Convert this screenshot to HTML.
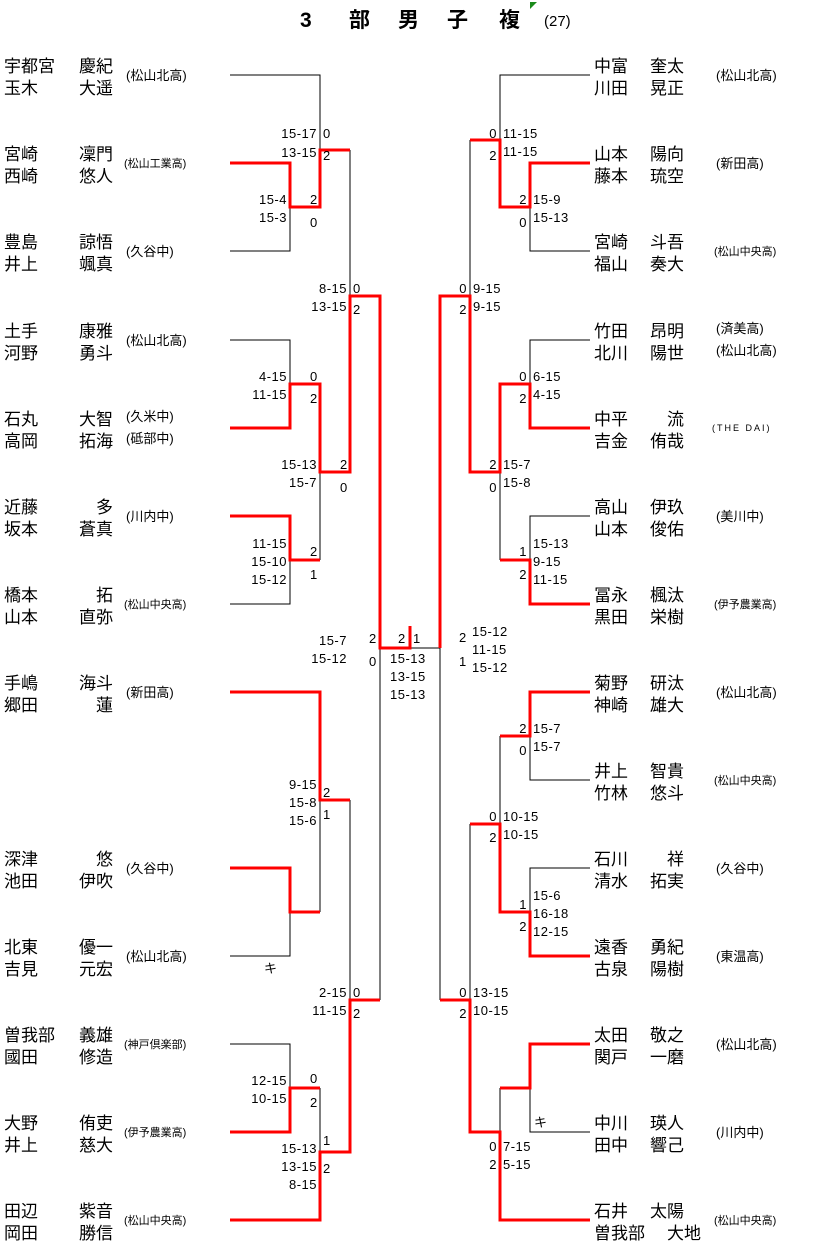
<!DOCTYPE html>
<html><head><meta charset="utf-8"><style>
html,body{margin:0;padding:0;background:#fff;}
svg{display:block}
.n{font-family:"Liberation Sans","Noto Sans CJK JP",sans-serif;font-size:17px;fill:#000}
.s{font-family:"Liberation Sans","Noto Sans CJK JP",sans-serif;font-size:13px;fill:#000}
.ss{font-family:"Liberation Sans","Noto Sans CJK JP",sans-serif;font-size:11px;fill:#000}
.sc{font-family:"Liberation Sans",sans-serif;font-size:13px;fill:#000;letter-spacing:0.5px}
.e{text-anchor:end}
</style></head><body>
<svg width="821" height="1243" viewBox="0 0 821 1243" xmlns="http://www.w3.org/2000/svg">
<g font-family="Liberation Sans, Noto Sans CJK JP, sans-serif" font-weight="bold" font-size="21">
<text x="300" y="27">3</text><text x="349" y="27">部</text><text x="398" y="27">男</text><text x="447" y="27">子</text><text x="499" y="27">複</text></g>
<polygon points="530,2 537,2 530,9" fill="#1a8a1a"/>
<text x="544" y="26" font-family="Liberation Sans, sans-serif" font-size="15">(27)</text>

<g fill="none" stroke="#000" stroke-width="1">
<path d="M230,75H320V150M230,251H290V207M350,150V296M230,340H290V384M320,472V560M230,604H290V560M410,648H440M380,648V1000M320,800V912M230,956H290V912M350,800V1000M230,1044H290V1088M320,1088V1152"/>
<path d="M590,75H500V140M590,251H530V207M470,140V296M590,340H530V384M500,472V560M590,516H530V560M440,648V1000M590,780H530V736M500,736V824M590,868H530V912M470,824V1000M590,1132H530V1088M500,1088V1132"/>
</g>
<g fill="none" stroke="#f00" stroke-width="3">
<path d="M230,163H290V207H320V150H350"/>
<path d="M230,428H290V384H320V472H350V296H380V648H410V626"/>
<path d="M230,516H290V560H320"/>
<path d="M230,692H320V800H350"/>
<path d="M230,868H290V912H320"/>
<path d="M230,1132H290V1088H320"/>
<path d="M230,1220H320V1152H350V1000H380"/>
<path d="M590,163H530V207H500V140H470"/>
<path d="M590,428H530V384H500V472H470V296H440V648"/>
<path d="M590,604H530V560H500"/>
<path d="M590,692H530V736H500"/>
<path d="M590,956H530V912H500V824H470"/>
<path d="M590,1044H530V1088H500"/>
<path d="M590,1220H500V1132H470V1000H440"/>
</g>

<g class="sc">
<text class="e" x="317" y="138">15-17</text><text x="323" y="138">0</text>
<text class="e" x="317" y="157">13-15</text><text x="323" y="160">2</text>
<text class="e" x="287" y="204">15-4</text><text x="310" y="204">2</text>
<text class="e" x="287" y="222">15-3</text><text x="310" y="227">0</text>
<text class="e" x="347" y="293">8-15</text><text x="353" y="293">0</text>
<text class="e" x="347" y="311">13-15</text><text x="353" y="314">2</text>
<text class="e" x="287" y="381">4-15</text><text x="310" y="381">0</text>
<text class="e" x="287" y="399">11-15</text><text x="310" y="403">2</text>
<text class="e" x="317" y="469">15-13</text><text x="340" y="469">2</text>
<text class="e" x="317" y="487">15-7</text><text x="340" y="492">0</text>
<text class="e" x="287" y="548">11-15</text><text class="e" x="287" y="566">15-10</text><text class="e" x="287" y="584">15-12</text>
<text x="310" y="556">2</text><text x="310" y="579">1</text>
<text class="e" x="347" y="645">15-7</text><text x="369" y="643">2</text>
<text class="e" x="347" y="663">15-12</text><text x="369" y="666">0</text>
<text x="398" y="643">2</text><text x="413" y="643">1</text>
<text x="390" y="663">15-13</text><text x="390" y="681">13-15</text><text x="390" y="699">15-13</text>
<text x="459" y="642">2</text><text x="472" y="636">15-12</text><text x="472" y="654">11-15</text>
<text x="459" y="666">1</text><text x="472" y="672">15-12</text>
<text class="e" x="317" y="789">9-15</text><text x="323" y="797">2</text>
<text class="e" x="317" y="807">15-8</text><text class="e" x="317" y="825">15-6</text><text x="323" y="819">1</text>
<text x="264" y="973">キ</text>
<text class="e" x="347" y="997">2-15</text><text x="353" y="997">0</text>
<text class="e" x="347" y="1015">11-15</text><text x="353" y="1018">2</text>
<text class="e" x="287" y="1085">12-15</text><text x="310" y="1083">0</text>
<text class="e" x="287" y="1103">10-15</text><text x="310" y="1107">2</text>
<text class="e" x="317" y="1153">15-13</text><text x="323" y="1145">1</text>
<text class="e" x="317" y="1171">13-15</text><text x="323" y="1173">2</text>
<text class="e" x="317" y="1189">8-15</text>

<text class="e" x="497" y="138">0</text><text x="503" y="138">11-15</text>
<text class="e" x="497" y="160">2</text><text x="503" y="156">11-15</text>
<text class="e" x="527" y="204">2</text><text x="533" y="204">15-9</text>
<text class="e" x="527" y="227">0</text><text x="533" y="222">15-13</text>
<text class="e" x="467" y="293">0</text><text x="473" y="293">9-15</text>
<text class="e" x="467" y="314">2</text><text x="473" y="311">9-15</text>
<text class="e" x="527" y="381">0</text><text x="533" y="381">6-15</text>
<text class="e" x="527" y="403">2</text><text x="533" y="399">4-15</text>
<text class="e" x="497" y="469">2</text><text x="503" y="469">15-7</text>
<text class="e" x="497" y="492">0</text><text x="503" y="487">15-8</text>
<text class="e" x="527" y="556">1</text><text x="533" y="548">15-13</text><text x="533" y="566">9-15</text>
<text class="e" x="527" y="579">2</text><text x="533" y="584">11-15</text>
<text class="e" x="527" y="733">2</text><text x="533" y="733">15-7</text>
<text class="e" x="527" y="755">0</text><text x="533" y="751">15-7</text>
<text class="e" x="497" y="821">0</text><text x="503" y="821">10-15</text>
<text class="e" x="497" y="842">2</text><text x="503" y="839">10-15</text>
<text class="e" x="527" y="909">1</text><text x="533" y="900">15-6</text><text x="533" y="918">16-18</text>
<text class="e" x="527" y="931">2</text><text x="533" y="936">12-15</text>
<text class="e" x="467" y="997">0</text><text x="473" y="997">13-15</text>
<text class="e" x="467" y="1018">2</text><text x="473" y="1015">10-15</text>
<text x="534" y="1127">キ</text>
<text class="e" x="497" y="1151">0</text><text x="503" y="1151">7-15</text>
<text class="e" x="497" y="1169">2</text><text x="503" y="1169">5-15</text>
</g>

<g class="n">
<text x="4" y="72">宇都宮</text><text class="e" x="113" y="72">慶紀</text><text x="4" y="94">玉木</text><text class="e" x="113" y="94">大遥</text>
<text x="4" y="160">宮崎</text><text class="e" x="113" y="160">凜門</text><text x="4" y="182">西崎</text><text class="e" x="113" y="182">悠人</text>
<text x="4" y="248">豊島</text><text class="e" x="113" y="248">諒悟</text><text x="4" y="270">井上</text><text class="e" x="113" y="270">颯真</text>
<text x="4" y="337">土手</text><text class="e" x="113" y="337">康雅</text><text x="4" y="359">河野</text><text class="e" x="113" y="359">勇斗</text>
<text x="4" y="425">石丸</text><text class="e" x="113" y="425">大智</text><text x="4" y="447">高岡</text><text class="e" x="113" y="447">拓海</text>
<text x="4" y="513">近藤</text><text class="e" x="113" y="513">多</text><text x="4" y="535">坂本</text><text class="e" x="113" y="535">蒼真</text>
<text x="4" y="601">橋本</text><text class="e" x="113" y="601">拓</text><text x="4" y="623">山本</text><text class="e" x="113" y="623">直弥</text>
<text x="4" y="689">手嶋</text><text class="e" x="113" y="689">海斗</text><text x="4" y="711">郷田</text><text class="e" x="113" y="711">蓮</text>
<text x="4" y="865">深津</text><text class="e" x="113" y="865">悠</text><text x="4" y="887">池田</text><text class="e" x="113" y="887">伊吹</text>
<text x="4" y="953">北東</text><text class="e" x="113" y="953">優一</text><text x="4" y="975">吉見</text><text class="e" x="113" y="975">元宏</text>
<text x="4" y="1041">曽我部</text><text class="e" x="113" y="1041">義雄</text><text x="4" y="1063">國田</text><text class="e" x="113" y="1063">修造</text>
<text x="4" y="1129">大野</text><text class="e" x="113" y="1129">侑吏</text><text x="4" y="1151">井上</text><text class="e" x="113" y="1151">慈大</text>
<text x="4" y="1217">田辺</text><text class="e" x="113" y="1217">紫音</text><text x="4" y="1239">岡田</text><text class="e" x="113" y="1239">勝信</text>

<text x="594" y="72">中富</text><text class="e" x="684" y="72">奎太</text><text x="594" y="94">川田</text><text class="e" x="684" y="94">晃正</text>
<text x="594" y="160">山本</text><text class="e" x="684" y="160">陽向</text><text x="594" y="182">藤本</text><text class="e" x="684" y="182">琉空</text>
<text x="594" y="248">宮崎</text><text class="e" x="684" y="248">斗吾</text><text x="594" y="270">福山</text><text class="e" x="684" y="270">奏大</text>
<text x="594" y="337">竹田</text><text class="e" x="684" y="337">昂明</text><text x="594" y="359">北川</text><text class="e" x="684" y="359">陽世</text>
<text x="594" y="425">中平</text><text class="e" x="684" y="425">流</text><text x="594" y="447">吉金</text><text class="e" x="684" y="447">侑哉</text>
<text x="594" y="513">高山</text><text class="e" x="684" y="513">伊玖</text><text x="594" y="535">山本</text><text class="e" x="684" y="535">俊佑</text>
<text x="594" y="601">冨永</text><text class="e" x="684" y="601">楓汰</text><text x="594" y="623">黒田</text><text class="e" x="684" y="623">栄樹</text>
<text x="594" y="689">菊野</text><text class="e" x="684" y="689">研汰</text><text x="594" y="711">神崎</text><text class="e" x="684" y="711">雄大</text>
<text x="594" y="777">井上</text><text class="e" x="684" y="777">智貴</text><text x="594" y="799">竹林</text><text class="e" x="684" y="799">悠斗</text>
<text x="594" y="865">石川</text><text class="e" x="684" y="865">祥</text><text x="594" y="887">清水</text><text class="e" x="684" y="887">拓実</text>
<text x="594" y="953">遠香</text><text class="e" x="684" y="953">勇紀</text><text x="594" y="975">古泉</text><text class="e" x="684" y="975">陽樹</text>
<text x="594" y="1041">太田</text><text class="e" x="684" y="1041">敬之</text><text x="594" y="1063">関戸</text><text class="e" x="684" y="1063">一磨</text>
<text x="594" y="1129">中川</text><text class="e" x="684" y="1129">瑛人</text><text x="594" y="1151">田中</text><text class="e" x="684" y="1151">響己</text>
<text x="594" y="1217">石井</text><text class="e" x="684" y="1217">太陽</text><text x="594" y="1239">曽我部</text><text class="e" x="701" y="1239">大地</text>
</g>

<g class="s">
<text x="126" y="80">(松山北高)</text>
<text x="126" y="256">(久谷中)</text>
<text x="126" y="345">(松山北高)</text>
<text x="126" y="421">(久米中)</text><text x="126" y="443">(砥部中)</text>
<text x="126" y="521">(川内中)</text>
<text x="126" y="697">(新田高)</text>
<text x="126" y="873">(久谷中)</text>
<text x="126" y="961">(松山北高)</text>
<text x="716" y="80">(松山北高)</text>
<text x="716" y="168">(新田高)</text>
<text x="716" y="333">(済美高)</text><text x="716" y="355">(松山北高)</text>
<text x="716" y="521">(美川中)</text>
<text x="716" y="697">(松山北高)</text>
<text x="716" y="873">(久谷中)</text>
<text x="716" y="961">(東温高)</text>
<text x="716" y="1049">(松山北高)</text>
<text x="716" y="1137">(川内中)</text>
</g>
<g class="ss">
<text x="124" y="167">(松山工業高)</text>
<text x="124" y="608">(松山中央高)</text>
<text x="124" y="1048">(神戸倶楽部)</text>
<text x="124" y="1136">(伊予農業高)</text>
<text x="124" y="1224">(松山中央高)</text>
<text x="714" y="255">(松山中央高)</text>
<text x="712" y="431" font-size="9" letter-spacing="2">(THE DAI)</text>
<text x="714" y="608">(伊予農業高)</text>
<text x="714" y="784">(松山中央高)</text>
<text x="714" y="1224">(松山中央高)</text>
</g>
</svg>
</body></html>
